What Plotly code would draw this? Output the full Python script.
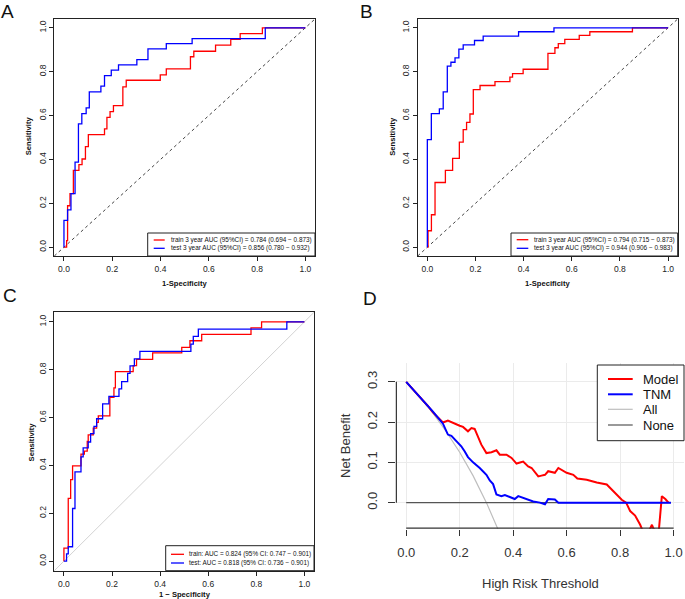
import plotly.graph_objects as go

W, H = 685, 599
FONT = "Liberation Sans, Arial, sans-serif"

# ---------------- data ----------------
roc_ticks = [0, 0.2, 0.4, 0.6, 0.8, 1.0]
roc_tick_text = ["0.0", "0.2", "0.4", "0.6", "0.8", "1.0"]

# Panel A
a_train_fpr = [0, 0.011, 0.015, 0.025, 0.039, 0.062, 0.075, 0.089, 0.101, 0.168, 0.178, 0.191, 0.205,
               0.244, 0.258, 0.399, 0.424, 0.524, 0.538, 0.628, 0.691, 0.730, 0.822, 1.0]
a_train_tpr = [0, 0.030, 0.189, 0.244, 0.350, 0.376, 0.402, 0.458, 0.513, 0.539, 0.592, 0.618, 0.645,
               0.731, 0.761, 0.785, 0.813, 0.868, 0.893, 0.921, 0.947, 0.973, 1.0, 1.0]
a_test_fpr = [0, 0, 0.015, 0.029, 0.046, 0.060, 0.074, 0.092, 0.105, 0.153, 0.168, 0.196, 0.226,
              0.302, 0.348, 0.424, 0.531, 0.834, 1.0]
a_test_tpr = [0, 0.122, 0.170, 0.244, 0.388, 0.562, 0.609, 0.635, 0.708, 0.734, 0.782, 0.807, 0.831,
              0.855, 0.904, 0.928, 0.951, 1.0, 1.0]
a_train_label = "train 3 year AUC (95%CI) = 0.784 (0.694 − 0.873)"
a_test_label = "test 3 year AUC (95%CI) = 0.856 (0.780 − 0.932)"

# Panel B
b_train_fpr = [0, 0.003, 0.017, 0.032, 0.075, 0.105, 0.133, 0.149, 0.163, 0.177, 0.191, 0.219, 0.281,
               0.343, 0.354, 0.398, 0.501, 0.530, 0.544, 0.571, 0.631, 0.675, 0.852, 1.0]
b_train_tpr = [0, 0.075, 0.148, 0.295, 0.350, 0.405, 0.479, 0.536, 0.569, 0.607, 0.718, 0.737, 0.755,
               0.775, 0.791, 0.811, 0.883, 0.909, 0.928, 0.947, 0.965, 0.982, 1.0, 1.0]
b_test_fpr = [0, 0, 0.0166, 0.050, 0.066, 0.083, 0.098, 0.115, 0.131, 0.149, 0.196, 0.232, 0.379, 0.526, 1.0]
b_test_tpr = [0, 0.490, 0.609, 0.630, 0.708, 0.825, 0.843, 0.863, 0.903, 0.922, 0.942, 0.962, 0.982, 1.0, 1.0]
b_train_label = "train 3 year AUC (95%CI) = 0.794 (0.715 − 0.873)"
b_test_label = "test 3 year AUC (95%CI) = 0.944 (0.906 − 0.983)"

# Panel C
c_train_fpr = [0, 0, 0.018, 0.028, 0.036, 0.071, 0.085, 0.097, 0.101, 0.122, 0.136, 0.143, 0.191, 0.208,
               0.214, 0.288, 0.302, 0.369, 0.490, 0.524, 0.573, 0.778, 0.822, 1.0]
c_train_tpr = [0, 0.054, 0.262, 0.341, 0.398, 0.447, 0.460, 0.500, 0.528, 0.556, 0.580, 0.607, 0.685, 0.724,
               0.792, 0.817, 0.843, 0.870, 0.893, 0.921, 0.948, 0.975, 1.0, 1.0]
c_test_fpr = [0, 0.011, 0.018, 0.036, 0.046, 0.071, 0.080, 0.101, 0.111, 0.125, 0.136, 0.161, 0.187, 0.229,
              0.240, 0.265, 0.275, 0.293, 0.316, 0.528, 0.538, 0.559, 0.927, 1.0]
c_test_tpr = [0, 0.030, 0.060, 0.220, 0.373, 0.436, 0.473, 0.498, 0.533, 0.563, 0.595, 0.657, 0.689, 0.720,
              0.750, 0.785, 0.816, 0.845, 0.877, 0.907, 0.939, 0.970, 1.0, 1.0]
c_train_label = "train: AUC = 0.824 (95% CI: 0.747 − 0.901)"
c_test_label = "test: AUC = 0.818 (95% CI: 0.736 − 0.901)"

# Panel D (decision curve)
d_ticks_x = [0, 0.2, 0.4, 0.6, 0.8, 1.0]
d_tick_text_x = ["0.0", "0.2", "0.4", "0.6", "0.8", "1.0"]
d_ticks_y = [0, 0.1, 0.2, 0.3]
d_tick_text_y = ["0.0", "0.1", "0.2", "0.3"]

model_t = [0, 0.03, 0.05, 0.069, 0.081, 0.1, 0.119, 0.1375, 0.156, 0.175, 0.1875, 0.2, 0.2125, 0.231, 0.244,
           0.256, 0.281, 0.3, 0.319, 0.3375, 0.35, 0.375, 0.394, 0.4125, 0.4375, 0.456, 0.469, 0.494, 0.506,
           0.519, 0.531, 0.556, 0.569, 0.5875, 0.6, 0.625, 0.64, 0.675, 0.7125, 0.75, 0.769, 0.7875, 0.806,
           0.8225, 0.8375, 0.856, 0.875, 0.8875, 0.905, 0.919, 0.925, 0.944, 0.956, 0.969, 0.981]
model_nb = [0.300, 0.278, 0.264, 0.249, 0.240, 0.224, 0.210, 0.199, 0.204, 0.198, 0.193, 0.191, 0.188, 0.177,
            0.185, 0.183, 0.144, 0.123, 0.125, 0.130, 0.119, 0.119, 0.111, 0.097, 0.102, 0.090, 0.086, 0.065,
            0.067, 0.069, 0.078, 0.074, 0.086, 0.080, 0.074, 0.069, 0.060, 0.057, 0.050, 0.045, 0.032, 0.020,
            0.007, 0.000, -0.021, -0.032, -0.055, -0.075, -0.075, -0.055, -0.065, -0.075, 0.016, 0.009, 0.000]

tnm_t = [0, 0.05, 0.1, 0.1375, 0.156, 0.169, 0.1875, 0.206, 0.219, 0.231, 0.25, 0.275, 0.3, 0.3125, 0.325,
         0.331, 0.3375, 0.356, 0.369, 0.3875, 0.406, 0.419, 0.4375, 0.456, 0.475, 0.5, 0.519, 0.531, 0.556,
         0.569, 0.99]
tnm_nb = [0.300, 0.264, 0.226, 0.196, 0.169, 0.166, 0.154, 0.140, 0.127, 0.113, 0.100, 0.086, 0.069, 0.055,
          0.046, 0.032, 0.020, 0.016, 0.019, 0.014, 0.009, 0.016, 0.012, 0.007, 0.003, 0.000, -0.004, 0.009,
          0.008, 0.000, 0.000]

all_t = [0, 0.05, 0.1, 0.15, 0.2, 0.25, 0.3, 0.345]
all_nb = [0.300, 0.263, 0.222, 0.176, 0.125, 0.067, 0.000, -0.069]

none_t = [0, 0.99]
none_nb = [0.0, 0.0]

# ---------------- helpers ----------------
def px(x):
    return x / W


def py(y):
    return 1 - y / H


RED = "#FF0000"
BLUE = "#0000FF"

fig = go.Figure()

def roc(n, fpr, tpr, color, name):
    suffix = "" if n == 1 else str(n)
    fig.add_trace(go.Scatter(x=fpr, y=tpr, mode="lines", line=dict(color=color, width=1.3, shape="hv"),
                             name=name, xaxis="x" + suffix, yaxis="y" + suffix, hoverinfo="x+y"))

roc(1, a_train_fpr, a_train_tpr, RED, a_train_label)
roc(1, a_test_fpr, a_test_tpr, BLUE, a_test_label)
roc(2, b_train_fpr, b_train_tpr, RED, b_train_label)
roc(2, b_test_fpr, b_test_tpr, BLUE, b_test_label)
roc(3, c_train_fpr, c_train_tpr, RED, c_train_label)
roc(3, c_test_fpr, c_test_tpr, BLUE, c_test_label)

fig.add_trace(go.Scatter(x=all_t, y=all_nb, mode="lines", line=dict(color="#BEBEBE", width=1.2),
                         name="All", xaxis="x4", yaxis="y4"))
fig.add_trace(go.Scatter(x=none_t, y=none_nb, mode="lines", line=dict(color="#555555", width=1.2),
                         name="None", xaxis="x4", yaxis="y4"))
fig.add_trace(go.Scatter(x=model_t, y=model_nb, mode="lines", line=dict(color=RED, width=2),
                         name="Model", xaxis="x4", yaxis="y4"))
fig.add_trace(go.Scatter(x=tnm_t, y=tnm_nb, mode="lines", line=dict(color=BLUE, width=2),
                         name="TNM", xaxis="x4", yaxis="y4"))

# ---------------- axes ----------------
def roc_axes(n, x0, x1, y0, y1):
    suffix = "" if n == 1 else str(n)
    common = dict(range=[-0.04, 1.04], tickvals=roc_ticks, ticktext=roc_tick_text, ticks="outside",
                  ticklen=4, tickwidth=1, tickcolor="#222", showline=True, linecolor="#222", linewidth=1,
                  mirror=True, showgrid=False, zeroline=False,
                  tickfont=dict(size=8.5, color="#222", family=FONT))
    fig.update_layout(**{
        "xaxis" + suffix: dict(domain=[px(x0), px(x1)], anchor="y" + suffix, ticklabelstandoff=1, **common),
        "yaxis" + suffix: dict(domain=[py(y1), py(y0)], anchor="x" + suffix, tickangle=-90,
                               ticklabelstandoff=0, **common),
    })

roc_axes(1, 54.3, 315.0, 19.0, 256.0)
roc_axes(2, 417.7, 677.7, 19.0, 256.0)
roc_axes(3, 54.3, 314.0, 312.3, 570.7)

fig.update_layout(
    xaxis4=dict(domain=[px(395.5), px(684.3)], anchor="y4", range=[-0.04, 1.04], tickvals=d_ticks_x,
                ticktext=d_tick_text_x, ticks="outside", ticklen=6, tickcolor="#333", showline=False,
                zeroline=False, showgrid=True, gridcolor="#EBEBEB", gridwidth=1, ticklabelstandoff=6,
                tickfont=dict(size=13, color="#333", family=FONT)),
    yaxis4=dict(domain=[py(528.8), py(363.3)], anchor="x4", range=[-0.065, 0.346], tickvals=d_ticks_y,
                ticktext=d_tick_text_y, ticks="outside", ticklen=7, tickcolor="#333", showline=False,
                zeroline=False, showgrid=True, gridcolor="#EBEBEB", gridwidth=1, tickangle=-90,
                ticklabelstandoff=5, tickfont=dict(size=13, color="#333", family=FONT)),
)

shapes = []
annotations = []

# diagonal reference lines
for suffix, color, dash in (("", "#444", "3px,3px"), ("2", "#444", "3px,3px"), ("3", "#D3D3D3", "solid")):
    shapes.append(dict(type="line", xref="x" + suffix + " domain", yref="y" + suffix + " domain",
                       x0=0, y0=0, x1=1, y1=1, line=dict(color=color, width=1, dash=dash), layer="below"))

# D axis lines (R style: only between first and last tick), nudged just inside the clip area
shapes.append(dict(type="line", xref="x4", yref="y4 domain", x0=d_ticks_x[0], x1=d_ticks_x[-1], y0=0.004, y1=0.004,
                   line=dict(color="#333", width=1.2)))
shapes.append(dict(type="line", xref="x4 domain", yref="y4", x0=0.003, x1=0.003, y0=d_ticks_y[0], y1=d_ticks_y[-1],
                   line=dict(color="#333", width=1.2)))


def text(x, y, s, size, bold=False, angle=0, xanchor="center", color="#111"):
    annotations.append(dict(x=px(x), y=py(y), xref="paper", yref="paper", text=("<b>%s</b>" % s) if bold else s,
                            showarrow=False, textangle=angle, xanchor=xanchor, yanchor="middle",
                            font=dict(size=size, family=FONT, color=color), borderpad=0))


def legend(box, entries, lx0, lx1, tx, size, border="#222"):
    x0, y0, x1, y1 = box
    shapes.append(dict(type="rect", xref="paper", yref="paper", x0=px(x0), x1=px(x1), y0=py(y1), y1=py(y0),
                       line=dict(color=border, width=1), fillcolor="white"))
    for color, width, label, yc in entries:
        shapes.append(dict(type="line", xref="paper", yref="paper", x0=px(lx0), x1=px(lx1), y0=py(yc), y1=py(yc),
                           line=dict(color=color, width=width)))
        text(tx, yc, label, size, xanchor="left", color="#111")


legend((147.7, 233.0, 315.0, 256.0), [(RED, 1.3, a_train_label, 240.0), (BLUE, 1.3, a_test_label, 248.3)],
       153.7, 164.7, 170.0, 6.4)
legend((511.0, 233.0, 677.7, 256.0), [(RED, 1.3, b_train_label, 239.7), (BLUE, 1.3, b_test_label, 248.3)],
       516.7, 528.3, 533.3, 6.4)
legend((165.7, 545.7, 314.0, 570.7), [(RED, 1.3, c_train_label, 554.3), (BLUE, 1.3, c_test_label, 563.0)],
       171.0, 184.0, 188.3, 6.4)
legend((597.3, 365.0, 684.0, 440.7), [(RED, 2, "Model", 379.0), (BLUE, 2, "TNM", 394.3),
                                      ("#BEBEBE", 1.2, "All", 409.3), ("#555555", 1.2, "None", 425.0)],
       608.0, 632.7, 642.3, 13, border="#222")

# axis titles
text(184.7, 283.3, "1-Specificity", 7.6, bold=True)
text(28.3, 136.0, "Sensitivity", 7.6, bold=True, angle=-90)
text(547.5, 283.3, "1-Specificity", 7.6, bold=True)
text(391.7, 136.0, "Sensitivity", 7.6, bold=True, angle=-90)
text(184.7, 594.0, "1 − Specificity", 7.6, bold=True)
text(31.7, 441.7, "Sensitivity", 7.6, bold=True, angle=-90)
text(540.0, 583.3, "High Risk Threshold", 13, color="#333")
text(345.0, 446.0, "Net Benefit", 13, angle=-90, color="#333")

# panel letters
text(7.5, 11.5, "A", 19)
text(366.5, 11.5, "B", 19)
text(9.5, 295.5, "C", 19)
text(369.5, 298.0, "D", 19)

fig.update_layout(width=W, height=H, margin=dict(l=0, r=0, t=0, b=0, autoexpand=False),
                  plot_bgcolor="white", paper_bgcolor="white", showlegend=False,
                  shapes=shapes, annotations=annotations, font=dict(family=FONT))

fig.write_html("out.html", config={"displayModeBar": False})

# remove the browser's default 8px body margin so the figure sits at the page origin
with open("out.html", "r", encoding="utf-8") as f:
    html = f.read()
html = html.replace("<body>", '<body style="margin:0;padding:0;overflow:hidden">', 1)
with open("out.html", "w", encoding="utf-8") as f:
    f.write(html)
